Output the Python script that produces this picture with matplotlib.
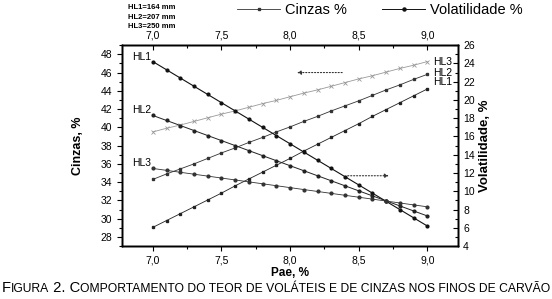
import matplotlib
matplotlib.use("Agg")
import matplotlib.pyplot as plt
from matplotlib.lines import Line2D
from matplotlib.ticker import MultipleLocator

plt.rcParams['font.family'] = ['Liberation Sans', 'DejaVu Sans']

# Pae, % (x axis)
pae = [7.0, 7.1, 7.2, 7.3, 7.4, 7.5, 7.6, 7.7, 7.8, 7.9, 8.0,
       8.1, 8.2, 8.3, 8.4, 8.5, 8.6, 8.7, 8.8, 8.9, 9.0]

# Cinzas, % (left axis)
cinzas_hl1 = [29.05, 29.8, 30.55, 31.3, 32.05, 32.8, 33.6, 34.35, 35.1, 35.85, 36.6,
              37.4, 38.15, 38.9, 39.65, 40.4, 41.2, 41.95, 42.7, 43.45, 44.2]
cinzas_hl2 = [34.3, 34.9, 35.45, 36.0, 36.6, 37.2, 37.75, 38.35, 38.9, 39.5, 40.05,
              40.65, 41.2, 41.8, 42.35, 42.9, 43.5, 44.1, 44.65, 45.25, 45.8]
cinzas_hl3 = [39.5, 39.9, 40.25, 40.65, 41.05, 41.45, 41.8, 42.2, 42.6, 42.95, 43.35,
              43.75, 44.1, 44.5, 44.9, 45.3, 45.65, 46.05, 46.45, 46.8, 47.2]

# Volatilidade, % (right axis)
vol_hl1 = [24.2, 23.3, 22.4, 21.5, 20.6, 19.7, 18.8, 17.9, 17.0, 16.1, 15.2,
           14.3, 13.4, 12.5, 11.6, 10.7, 9.8, 8.9, 8.0, 7.1, 6.2]
vol_hl2 = [18.3, 17.75, 17.2, 16.65, 16.1, 15.55, 15.0, 14.45, 13.9, 13.35, 12.8,
           12.25, 11.7, 11.15, 10.6, 10.05, 9.5, 8.95, 8.4, 7.85, 7.3]
vol_hl3 = [12.5, 12.29, 12.08, 11.87, 11.66, 11.45, 11.24, 11.03, 10.82, 10.61, 10.4,
           10.19, 9.98, 9.77, 9.56, 9.35, 9.14, 8.93, 8.72, 8.51, 8.3]

xticks = [7.0, 7.5, 8.0, 8.5, 9.0]
xtick_labels = ['7,0', '7,5', '8,0', '8,5', '9,0']

fig = plt.figure(figsize=(5.52, 2.99), dpi=100)
ax = fig.add_axes([0.221, 0.177, 0.609, 0.672])
ax2 = ax.twinx()
ax3 = ax.twiny()

# cinzas lines (left axis)
ax.plot(pae, cinzas_hl1, '-s', color='#222222', lw=0.6, ms=1.8)
ax.plot(pae, cinzas_hl2, '-s', color='#333333', lw=0.6, ms=1.8)
ax.plot(pae, cinzas_hl3, '-x', color='#999999', lw=0.6, ms=2.6, mew=0.6)

# volatility lines (right axis)
ax2.plot(pae, vol_hl1, '-o', color='#111111', lw=0.8, ms=2.0)
ax2.plot(pae, vol_hl2, '-o', color='#222222', lw=0.7, ms=2.0)
ax2.plot(pae, vol_hl3, '-o', color='#333333', lw=0.6, ms=2.0)

ax.set_xlim(6.775, 9.225)
ax3.set_xlim(6.775, 9.225)
ax.set_ylim(27, 49)
ax2.set_ylim(4, 26)

for a in (ax, ax3):
    a.set_xticks(xticks)
    a.set_xticklabels(xtick_labels)
    a.xaxis.set_minor_locator(MultipleLocator(0.25))
ax.yaxis.set_minor_locator(MultipleLocator(1))
ax2.yaxis.set_major_locator(MultipleLocator(2))
ax2.yaxis.set_minor_locator(MultipleLocator(1))
ax.set_yticks(range(28, 49, 2))

ax.tick_params(which='both', direction='out', labelsize=7.5, width=0.8)
ax.tick_params(which='major', length=3.5)
ax.tick_params(which='minor', length=2)
ax2.tick_params(which='both', direction='in', labelsize=7.5, width=0.8)
ax2.tick_params(which='major', length=3.5)
ax2.tick_params(which='minor', length=2)
ax3.tick_params(which='both', direction='in', labelsize=7.5, width=0.8)
ax3.tick_params(which='major', length=3.5)
ax3.tick_params(which='minor', length=2)

for a in (ax, ax2, ax3):
    for s in a.spines.values():
        s.set_linewidth(1.0)

ax.set_xlabel('Pae, %', fontsize=8.5, fontweight='bold', labelpad=1)
ax.set_ylabel('Cinzas, %', fontsize=9, fontweight='bold', labelpad=12)
ax2.set_ylabel('Volatilidade, %', fontsize=9.5, fontweight='bold', labelpad=3)

# series labels
ax2.text(6.99, vol_hl1[0], 'HL1', fontsize=7.5, ha='right', va='bottom')
ax2.text(6.99, vol_hl2[0], 'HL2', fontsize=7.5, ha='right', va='bottom')
ax2.text(6.99, vol_hl3[0], 'HL3', fontsize=7.5, ha='right', va='bottom')
ax.text(9.04, cinzas_hl3[-1], 'HL3', fontsize=7.5, ha='left', va='center')
ax.text(9.04, cinzas_hl2[-1] + 0.2, 'HL2', fontsize=7.5, ha='left', va='center')
ax.text(9.04, cinzas_hl1[-1] + 0.8, 'HL1', fontsize=7.5, ha='left', va='center')

# arrows pointing to axes
ax.annotate('', xy=(8.03, 46.0), xytext=(8.40, 46.0),
            arrowprops=dict(arrowstyle='-|>', color='#333333', lw=0.8, ls=':',
                            mutation_scale=6))
ax.annotate('', xy=(8.74, 34.7), xytext=(8.40, 34.7),
            arrowprops=dict(arrowstyle='-|>', color='#333333', lw=0.8, ls=':',
                            mutation_scale=6))

# heights note
fig.text(0.232, 0.985, 'HL1=164 mm\nHL2=207 mm\nHL3=250 mm', fontsize=5.5,
         fontweight='bold', va='top', ha='left', linespacing=1.45)

# legend
handles = [Line2D([], [], color='#333333', lw=0.6, marker='s', ms=2.0),
           Line2D([], [], color='#111111', lw=0.7, marker='o', ms=2.2)]
fig.legend(handles, ['Cinzas %', 'Volatilidade %'], loc='upper left',
           bbox_to_anchor=(0.405, 1.035), ncol=2, frameon=False, fontsize=10.5,
           handlelength=3.0, columnspacing=2.4, handletextpad=0.3)

# caption in small caps
fig.canvas.draw()
r = fig.canvas.get_renderer()
runs = [('F', 10.6), ('IGURA', 8.75), (' 2. C', 10.6),
        ('OMPORTAMENTO DO TEOR DE VOLÁTEIS E DE CINZAS NOS FINOS DE CARVÃO', 8.75)]
x = 0.003
for s, size in runs:
    t = fig.text(x, 0.022, s, fontsize=size, ha='left', va='baseline')
    w = t.get_window_extent(r).width
    x += w / fig.bbox.width

fig.savefig('out.png', dpi=100)
